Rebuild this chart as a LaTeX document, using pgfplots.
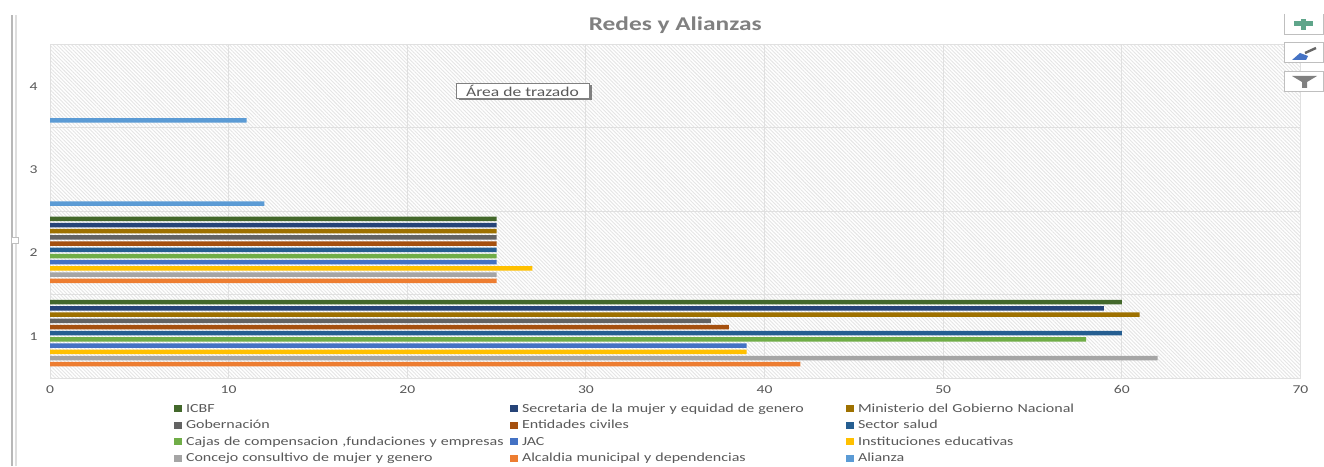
\documentclass[border=0pt]{standalone}
\usepackage{pgfplots}
\pgfplotsset{compat=1.18}
\usepackage{fontspec}
\setmainfont[FakeStretch=1.3]{Carlito}
\usetikzlibrary{patterns.meta,shadows}
\definecolor{cICBF}{HTML}{43682B}
\definecolor{cSec}{HTML}{264478}
\definecolor{cMin}{HTML}{9E7100}
\definecolor{cGob}{HTML}{636363}
\definecolor{cEnt}{HTML}{A5500F}
\definecolor{cSal}{HTML}{255E91}
\definecolor{cCaj}{HTML}{70AD47}
\definecolor{cJAC}{HTML}{4472C4}
\definecolor{cIns}{HTML}{FFC000}
\definecolor{cCon}{HTML}{A5A5A5}
\definecolor{cAlc}{HTML}{ED7D31}
\definecolor{cAli}{HTML}{5B9BD5}
\definecolor{txt}{HTML}{595959}
\definecolor{plusc}{HTML}{5FA58A}
\begin{document}
\begin{tikzpicture}[x=1pt,y=1pt]
\path[use as bounding box,fill=white] (0,0) rectangle (1324,466);
\fill[pattern={Lines[angle=-45,distance=2.6pt,line width=0.9pt]},pattern color=black!10] (50,88) rectangle (1300.5,421.5);
\begin{axis}[
  at={(50pt,88pt)},anchor=south west,
  scale only axis,width=1250.5pt,height=333.5pt,
  xmin=0,xmax=70,ymin=0.5,ymax=4.5,
  xtick={0,10,...,70},ytick={1,2,3,4},
  minor ytick={1.5,2.5,3.5},
  xmajorgrids,yminorgrids,
  grid style={draw=black!12,line width=1pt},
  minor grid style={draw=black!12,line width=1pt},
  axis line style={draw=black!12,line width=1pt},
  major tick length=0pt,minor tick length=0pt,
  tick label style={font=\fontsize{12}{14}\selectfont,text=txt},
  x tick label style={yshift=-4pt},
  y tick label style={xshift=-9pt},
  /pgf/number format/assume math mode=true,
  xbar=1.7pt,bar width=4.5pt,
  title={\fontsize{19.5}{22}\selectfont\bfseries Redes y Alianzas},
  title style={text=black!50,at={(0.5,1)},anchor=south,yshift=1pt},
  legend columns=3,
  reverse legend,
  legend style={at={(124pt,-26pt)},anchor=north west,draw=none,fill=none,
    font=\fontsize{12.3}{14}\selectfont,text=txt,
    row sep=6.6pt,inner sep=0pt,outer sep=0pt,
    nodes={text width=328pt,inner sep=0pt,align=left,text height=8pt,text depth=2pt,
      execute at begin node={\hspace*{4pt}}},
    /tikz/column sep=0pt},
  legend image code/.code={\fill[#1] (0pt,-3pt) rectangle (8pt,4pt);},
  every axis plot/.append style={draw=none},
]
\addplot[fill=cAli] coordinates {(12,3) (11,4)};
\addplot[fill=cAlc] coordinates {(42,1) (25,2)};
\addplot[fill=cCon] coordinates {(62,1) (25,2)};
\addplot[fill=cIns] coordinates {(39,1) (27,2)};
\addplot[fill=cJAC] coordinates {(39,1) (25,2)};
\addplot[fill=cCaj] coordinates {(58,1) (25,2)};
\addplot[fill=cSal] coordinates {(60,1) (25,2)};
\addplot[fill=cEnt] coordinates {(38,1) (25,2)};
\addplot[fill=cGob] coordinates {(37,1) (25,2)};
\addplot[fill=cMin] coordinates {(61,1) (25,2)};
\addplot[fill=cSec] coordinates {(59,1) (25,2)};
\addplot[fill=cICBF] coordinates {(60,1) (25,2)};
\legend{Alianza,Alcaldia municipal y dependencias,Concejo consultivo de mujer y genero,Instituciones educativas,JAC,{Cajas de compensacion ,fundaciones y empresas},Sector salud,Entidades civiles,Gobernación,Ministerio del Gobierno Nacional,Secretaria de la mujer y equidad de genero,ICBF}
\end{axis}
% tooltip
\node[draw=black!50,fill=white,line width=0.8pt,inner sep=0pt,minimum width=133pt,minimum height=15pt,
  font=\fontsize{13.5}{15}\selectfont,text=txt,
  general shadow={shadow xshift=2.5pt,shadow yshift=-2.5pt,fill=black!50}] at (522.5,375.5) {Área de trazado};
% chart buttons
\foreach \ya/\yb in {403/423,374/394}{
  \draw[draw=black!25,fill=white,line width=1pt] (1284.5,\ya) rectangle (1323,\yb);
}
\draw[black!25,line width=1pt] (1284.5,452) -- (1284.5,431) -- (1323,431) -- (1323,452);
\fill[plusc] (1294,439.5) rectangle (1313,444.5);
\fill[plusc] (1301,436) rectangle (1306,447);
\fill[cJAC] (1292,406) -- (1300,413) -- (1308,410) -- (1306,406) -- cycle;
\draw[black!60,line width=2.4pt] (1305,413) -- (1316,418);
\fill[black!50] (1292,390) -- (1317,390) -- (1307,384) -- (1307,378) -- (1302,378) -- (1302,384) -- cycle;
% selection frame
\draw[black!28,line width=1.6pt] (11.8,0) -- (11.8,451);
\draw[black!13,line width=1.6pt] (15.8,0) -- (15.8,451);
\draw[black!25,fill=white,line width=0.6pt] (11,223) rectangle (18,229);
\end{tikzpicture}
\end{document}
